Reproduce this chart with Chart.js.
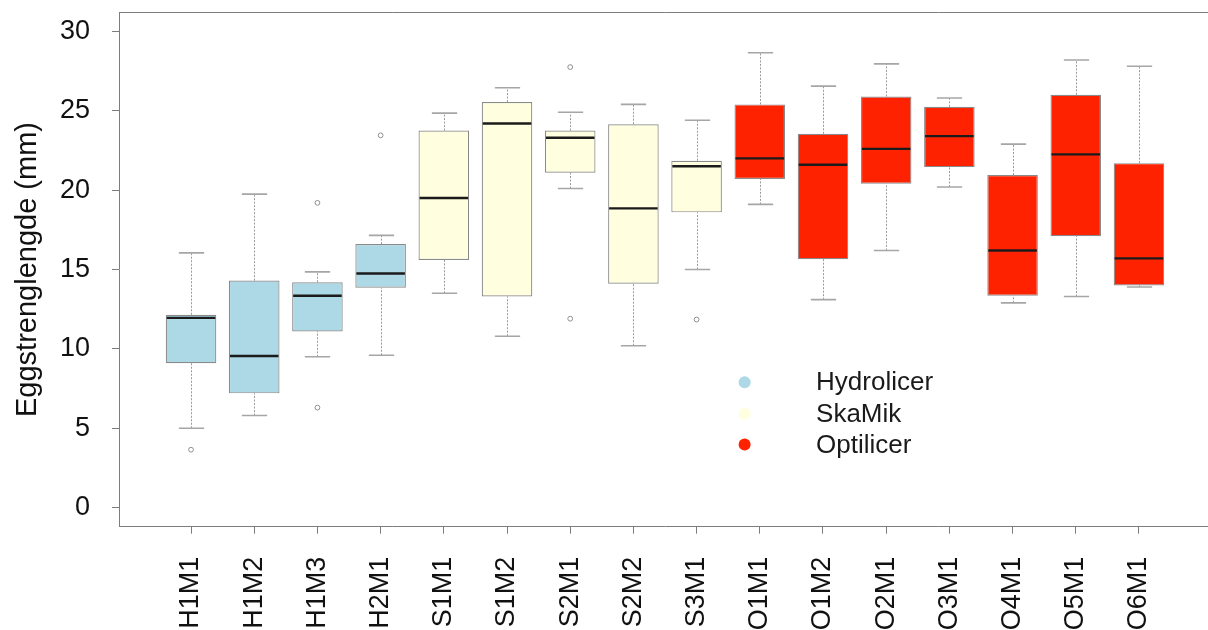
<!DOCTYPE html>
<html>
<head>
<meta charset="utf-8">
<title>Eggstrenglengde</title>
<script src="https://cdn.jsdelivr.net/npm/chart.js@4/dist/chart.umd.min.js"></script>
<style>
  html, body { margin: 0; padding: 0; background: #ffffff; overflow: hidden; }
  #wrap { width: 1216px; height: 630px; }
</style>
</head>
<body>
<div id="wrap"><canvas id="chart" width="1216" height="630"></canvas></div>
<script>
// Sample groups along the x axis
const categories = ['H1M1', 'H1M2', 'H1M3', 'H2M1', 'S1M1', 'S1M2', 'S2M1', 'S2M2', 'S3M1',
                    'O1M1', 'O1M2', 'O2M1', 'O3M1', 'O4M1', 'O5M1', 'O6M1'];
const groupOf = ['Hydrolicer', 'Hydrolicer', 'Hydrolicer', 'Hydrolicer',
                 'SkaMik', 'SkaMik', 'SkaMik', 'SkaMik', 'SkaMik',
                 'Optilicer', 'Optilicer', 'Optilicer', 'Optilicer', 'Optilicer', 'Optilicer', 'Optilicer'];

// Five-number summaries (mm)
const whiskerLow  = [5.0, 5.8, 9.5, 9.6, 13.5, 10.8, 20.1, 10.2, 15.0, 19.1, 13.1, 16.2, 20.2, 12.9, 13.3, 13.9];
const q1          = [9.1, 7.2, 11.1, 13.85, 15.6, 13.3, 21.1, 14.1, 18.6, 20.7, 15.65, 20.4, 21.45, 13.35, 17.1, 14.0];
const median      = [11.95, 9.55, 13.35, 14.75, 19.5, 24.2, 23.3, 18.85, 21.5, 22.0, 21.6, 22.6, 23.4, 16.2, 22.25, 15.7];
const q3          = [12.15, 14.3, 14.2, 16.6, 23.75, 25.55, 23.75, 24.15, 21.85, 25.4, 23.55, 25.9, 25.25, 20.95, 26.0, 21.7];
const whiskerHigh = [16.05, 19.75, 14.85, 17.15, 24.85, 26.45, 24.9, 25.4, 24.4, 28.65, 26.55, 27.95, 25.8, 22.9, 28.2, 27.8];

// Points outside the whiskers
const outlierCategory = ['H1M1', 'H1M3', 'H1M3', 'H2M1', 'S2M1', 'S2M1', 'S3M1'];
const outlierValue    = [3.65, 19.2, 6.3, 23.45, 27.75, 11.9, 11.85];

// Legend groups and their fills
const groups = ['Hydrolicer', 'SkaMik', 'Optilicer'];
const groupColors = ['#add8e6', '#ffffe0', '#ff2200'];

// Y axis tick values
const yTicks = [0, 5, 10, 15, 20, 25, 30];

const FONT = 'Liberation Sans, Arial, Helvetica, sans-serif';
const AXIS_GRAY = '#7d7d7d';

// Legend anchor, in data units
const legendLayout = { markerX: 9.76, textX: 10.89, rows: [7.9, 5.92, 3.98] };

const fillFor = categories.map((c, i) => groupColors[groups.indexOf(groupOf[i])]);

const boxData = categories.map((c, i) => ({ x: i + 1, y: [q1[i], q3[i]] }));
const outlierData = outlierCategory.map((c, k) => ({ x: categories.indexOf(c) + 1, y: outlierValue[k] }));

// Whiskers, caps, medians, top frame and the group legend
const boxPlotExtras = {
  id: 'boxPlotExtras',
  beforeDatasetsDraw(chart) {
    const { ctx, scales: { x, y } } = chart;
    const bars = chart.getDatasetMeta(0).data;
    ctx.save();
    categories.forEach((c, i) => {
      const px = Math.round(x.getPixelForValue(i + 1)) + 0.5;
      const half = bars[i].width / 4;
      const yLo = y.getPixelForValue(whiskerLow[i]);
      const yQ1 = y.getPixelForValue(q1[i]);
      const yQ3 = y.getPixelForValue(q3[i]);
      const yHi = y.getPixelForValue(whiskerHigh[i]);
      // dashed stems
      ctx.strokeStyle = '#9a9a9a';
      ctx.lineWidth = 1;
      ctx.setLineDash([2, 1.5]);
      ctx.beginPath();
      ctx.moveTo(px, yLo); ctx.lineTo(px, yQ1);
      ctx.moveTo(px, yQ3); ctx.lineTo(px, yHi);
      ctx.stroke();
      // caps
      ctx.setLineDash([]);
      ctx.strokeStyle = '#a6a6a6';
      ctx.lineWidth = 1.6;
      ctx.beginPath();
      ctx.moveTo(px - half, yLo); ctx.lineTo(px + half, yLo);
      ctx.moveTo(px - half, yHi); ctx.lineTo(px + half, yHi);
      ctx.stroke();
    });
    ctx.restore();
  },
  afterDatasetsDraw(chart) {
    const { ctx, scales: { x, y } } = chart;
    const bars = chart.getDatasetMeta(0).data;
    ctx.save();
    ctx.strokeStyle = '#1b1b1b';
    ctx.lineWidth = 2.4;
    categories.forEach((c, i) => {
      const b = bars[i];
      const ym = y.getPixelForValue(median[i]);
      ctx.beginPath();
      ctx.moveTo(b.x - b.width / 2 + 1, ym);
      ctx.lineTo(b.x + b.width / 2 - 1, ym);
      ctx.stroke();
    });
    ctx.restore();
  },
  afterDraw(chart) {
    const { ctx, chartArea: a, scales: { x, y } } = chart;
    ctx.save();
    // top and right edges of the plot frame
    ctx.strokeStyle = AXIS_GRAY;
    ctx.lineWidth = 1;
    ctx.beginPath();
    const top = Math.round(a.top) + 0.5;
    const right = Math.round(a.right) + 0.5;
    ctx.moveTo(Math.round(a.left), top);
    ctx.lineTo(right, top);
    ctx.lineTo(right, Math.round(a.bottom));
    ctx.stroke();
    // group legend
    const mx = x.getPixelForValue(legendLayout.markerX);
    const tx = x.getPixelForValue(legendLayout.textX);
    ctx.font = '26px ' + FONT;
    ctx.textAlign = 'left';
    ctx.textBaseline = 'middle';
    groups.forEach((g, k) => {
      const ly = y.getPixelForValue(legendLayout.rows[k]);
      ctx.fillStyle = groupColors[k];
      ctx.beginPath();
      ctx.arc(mx, ly, 6, 0, Math.PI * 2);
      ctx.fill();
      ctx.fillStyle = '#1a1a1a';
      ctx.fillText(g, tx, ly + 1);
    });
    ctx.restore();
  }
};

new Chart(document.getElementById('chart'), {
  type: 'bar',
  data: {
    datasets: [
      {
        label: 'Eggstrenglengde',
        data: boxData,
        backgroundColor: fillFor,
        borderColor: '#8a8a8a',
        borderWidth: 1.2,
        borderSkipped: false,
        barPercentage: 0.8,
        categoryPercentage: 1.0,
        order: 2
      },
      {
        type: 'scatter',
        label: 'Uteliggere',
        data: outlierData,
        pointStyle: 'circle',
        pointRadius: 2.4,
        pointBorderWidth: 1,
        pointBorderColor: '#8f8f8f',
        pointBackgroundColor: 'rgba(255,255,255,0)',
        order: 1
      }
    ]
  },
  options: {
    responsive: false,
    devicePixelRatio: 1,
    animation: false,
    events: [],
    layout: { padding: { top: 12.3, right: 1.4, bottom: 0, left: 0 } },
    plugins: {
      legend: { display: false },
      tooltip: { enabled: false }
    },
    scales: {
      x: {
        type: 'linear',
        min: -0.14,
        max: 17.14,
        bounds: 'data',
        offset: false,
        afterBuildTicks: s => { s.ticks = categories.map((c, i) => ({ value: i + 1 })); },
        afterFit: s => { s.height = 103.3; s.paddingLeft = 0; s.paddingRight = 0; },
        grid: { offset: false, drawOnChartArea: false, drawTicks: true, tickLength: 7, color: AXIS_GRAY, lineWidth: 1 },
        border: { display: true, color: AXIS_GRAY, width: 1 },
        ticks: {
          autoSkip: false,
          minRotation: 90,
          maxRotation: 90,
          padding: 23,
          color: '#111111',
          font: { family: FONT, size: 27 },
          callback: v => categories[Math.round(v) - 1]
        }
      },
      y: {
        type: 'linear',
        min: -1.2,
        max: 31.2,
        bounds: 'data',
        afterBuildTicks: s => { s.ticks = yTicks.map(v => ({ value: v })); },
        afterFit: s => { s.width = 119; s.paddingTop = 0; s.paddingBottom = 0; },
        grid: { drawOnChartArea: false, drawTicks: true, tickLength: 7, color: AXIS_GRAY, lineWidth: 1 },
        border: { display: true, color: AXIS_GRAY, width: 1 },
        ticks: {
          padding: 22,
          color: '#111111',
          font: { family: FONT, size: 27 },
          callback: v => String(v)
        },
        title: {
          display: true,
          text: 'Eggstrenglengde (mm)',
          color: '#111111',
          font: { family: FONT, size: 29 },
          padding: { top: 11, bottom: 0 }
        }
      }
    }
  },
  plugins: [boxPlotExtras]
});
</script>
</body>
</html>
